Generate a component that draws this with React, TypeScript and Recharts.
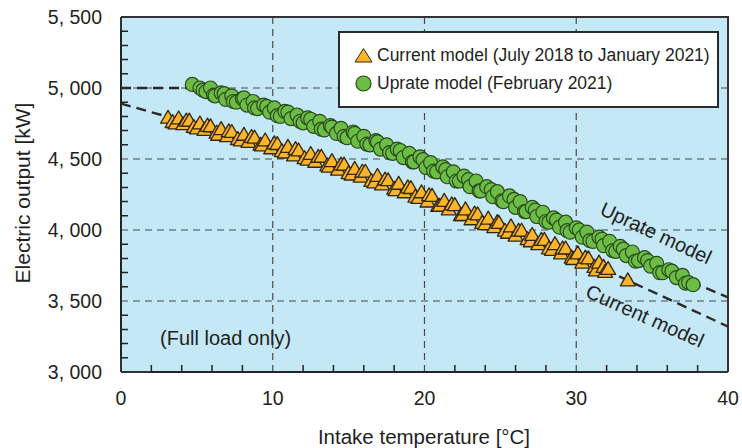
// App.tsx — intake temperature vs electric output (Recharts scatter)
import { ScatterChart, Scatter, XAxis, YAxis, CartesianGrid } from "recharts";

// Uprate model (February 2021)
const upTemp = [
  4.7, 5.2, 5.6, 5.9, 6.2, 6.6, 6.9, 7.3, 7.6, 8.0, 8.3, 8.7, 9.0, 9.4, 9.8, 10.1, 10.5, 10.8, 11.2, 11.6,
  12.0, 12.3, 12.7, 13.1, 13.4, 13.8, 14.2, 14.5, 14.9, 15.3, 15.6, 16.0, 16.4, 16.8, 17.1, 17.5, 17.9, 18.2,
  18.6, 19.0, 19.3, 19.7, 20.1, 20.4, 20.8, 21.2, 21.5, 21.9, 22.3, 22.6, 23.0, 23.4, 23.7, 24.1, 24.5, 24.8,
  25.2, 25.6, 26.0, 26.3, 26.7, 27.1, 27.4, 27.8, 28.2, 28.5, 28.9, 29.3, 29.6, 30.0, 30.4, 30.7, 31.1, 31.5,
  31.8, 32.2, 32.6, 32.9, 33.3, 33.7, 34.1, 34.5, 34.9, 35.3, 35.7, 36.1, 36.6, 37.0, 37.4, 37.7,
];
const upOutput = [
  5025, 5000, 4975, 5000, 4945, 4965, 4920, 4945, 4900, 4925, 4880, 4905, 4855, 4880, 4830, 4860, 4800, 4835, 4785, 4810,
  4755, 4790, 4730, 4765, 4705, 4735, 4680, 4715, 4650, 4690, 4625, 4660, 4600, 4630, 4570, 4600, 4540, 4570,
  4510, 4540, 4480, 4515, 4440, 4475, 4410, 4445, 4375, 4410, 4345, 4380, 4305, 4345, 4275, 4305, 4235, 4270,
  4200, 4240, 4160, 4200, 4130, 4160, 4095, 4125, 4055, 4085, 4020, 4055, 3985, 4015, 3950, 3985, 3920, 3950,
  3890, 3920, 3850, 3885, 3820, 3845, 3785, 3805, 3745, 3765, 3700, 3720, 3665, 3680, 3630, 3615,
];
// 追加の測定点（同期間）
const upTemp2 = [
  5.4, 6.1, 6.8, 7.4, 8.1, 8.8, 9.6, 10.3, 11.0, 11.8, 12.5, 13.2, 13.9, 14.7, 15.4, 16.2, 16.9, 17.7, 18.4,
  19.2, 19.9, 20.6, 21.4, 22.1, 22.9, 23.6, 24.4, 25.1, 25.9, 26.6, 27.3, 28.0, 28.7, 29.4, 30.2, 30.9, 31.7,
  32.4, 33.1, 33.9, 34.7, 35.5, 36.3, 37.2,
];
const upOutput2 = [
  4985, 4950, 4960, 4905, 4930, 4860, 4870, 4805, 4830, 4765, 4780, 4710, 4725, 4660, 4680, 4605, 4620, 4545, 4560,
  4480, 4495, 4415, 4425, 4345, 4355, 4275, 4285, 4205, 4215, 4130, 4140, 4060, 4070, 3995, 4000, 3925, 3935,
  3855, 3865, 3780, 3785, 3700, 3710, 3625,
];

// Current model (July 2018 to January 2021)
const curTemp = [
  3.1, 3.4, 3.8, 4.1, 4.5, 4.8, 5.2, 5.5, 5.9, 6.3, 6.6, 7.0, 7.3, 7.7, 8.1, 8.4, 8.8, 9.2, 9.5, 9.9,
  10.3, 10.6, 11.0, 11.4, 11.7, 12.1, 12.5, 12.8, 13.2, 13.6, 13.9, 14.3, 14.7, 15.0, 15.4, 15.8, 16.1, 16.5,
  16.9, 17.2, 17.6, 18.0, 18.3, 18.7, 19.1, 19.4, 19.8, 20.2, 20.5, 20.9, 21.3, 21.6, 22.0, 22.4, 22.7, 23.1,
  23.5, 23.8, 24.2, 24.6, 24.9, 25.3, 25.7, 26.0, 26.4, 26.8, 27.1, 27.5, 27.9, 28.2, 28.6, 29.0, 29.3, 29.7,
  30.1, 30.4, 30.8, 31.2, 31.5, 31.9, 32.1, 33.4,
];
const curOutput = [
  4790, 4760, 4785, 4745, 4770, 4725, 4750, 4705, 4730, 4685, 4710, 4660, 4690, 4640, 4670, 4620, 4650, 4600, 4630, 4575,
  4605, 4555, 4585, 4525, 4560, 4505, 4535, 4480, 4515, 4455, 4485, 4425, 4460, 4400, 4430, 4375, 4410, 4345,
  4380, 4320, 4350, 4290, 4325, 4265, 4295, 4235, 4265, 4200, 4240, 4170, 4205, 4145, 4175, 4105, 4145, 4075,
  4110, 4050, 4080, 4020, 4050, 3995, 4025, 3960, 3995, 3935, 3965, 3900, 3930, 3870, 3900, 3835, 3870, 3805,
  3835, 3770, 3800, 3740, 3770, 3705, 3725, 3645,
];
const curTemp2 = [
  3.6, 4.3, 5.0, 5.7, 6.4, 7.1, 7.9, 8.6, 9.3, 10.1, 10.8, 11.5, 12.3, 13.0, 13.7, 14.5, 15.2, 15.9, 16.7, 17.4,
  18.1, 18.9, 19.6, 20.3, 21.0, 21.8, 22.5, 23.3, 24.0, 24.8, 25.5, 26.2, 27.0, 27.7, 28.4, 29.1, 29.8, 30.6,
  31.3, 31.8,
];
const curOutput2 = [
  4750, 4770, 4715, 4735, 4670, 4695, 4630, 4655, 4595, 4610, 4545, 4570, 4495, 4515, 4445, 4460, 4390, 4410, 4335, 4355,
  4280, 4300, 4225, 4245, 4170, 4180, 4105, 4115, 4040, 4055, 3980, 3995, 3920, 3930, 3860, 3870, 3795, 3805,
  3715, 3740,
];

// 近似曲線（破線）
const upFitTemp = [0, 4.5, 10, 15, 20, 25, 30, 35, 40];
const upFitOutput = [5000, 5000, 4845, 4675, 4470, 4240, 3995, 3755, 3525];
const curFitTemp = [0, 3, 10, 20, 30, 33.4, 40];
const curFitOutput = [4890, 4800, 4595, 4235, 3810, 3645, 3320];

// 枠（上辺・右辺）
const frameTemp = [0, 40, 40];
const frameOutput = [5500, 5500, 3000];

const xTicks = [0, 10, 20, 30, 40];
const yTicks = [3000, 3500, 4000, 4500, 5000, 5500];
const xMinor = [2, 4, 6, 8, 12, 14, 16, 18, 22, 24, 26, 28, 32, 34, 36, 38];
const yMinor = [
  3100, 3200, 3300, 3400, 3600, 3700, 3800, 3900, 4100, 4200, 4300, 4400,
  4600, 4700, 4800, 4900, 5000, 5100, 5200, 5300, 5400,
];
const gridX = [10, 20, 30];
const gridY = [3500, 4000, 4500, 5000];

// 内向き目盛りの長さ（データ単位）
const X_TICK_LEN = 49; // kW
const Y_TICK_LEN = 0.46; // °C

const FONT = '"Liberation Sans", Arial, Helvetica, sans-serif';
const INK = "#231f20";
const PLOT_BG = "#c5e8f7";
const TRI_FILL = "#fbb52b";
const TRI_EDGE = "#33260f";
const DOT_FILL = "#6bbd45";
const DOT_EDGE = "#2b4a1c";

const toPoints = (xs: number[], ys: number[]) => xs.map((x, i) => ({ x, y: ys[i] }));

const fmtKw = (v: number) => `${Math.floor(v / 1000)}, ${String(v % 1000).padStart(3, "0")}`;

function TriangleMark(props: any) {
  const { cx, cy } = props;
  const s = 7.5;
  return (
    <polygon
      points={`${cx},${cy - s} ${cx + s},${cy + s * 0.72} ${cx - s},${cy + s * 0.72}`}
      fill={TRI_FILL}
      stroke={TRI_EDGE}
      strokeWidth={1.3}
      strokeLinejoin="round"
    />
  );
}

function CircleMark(props: any) {
  const { cx, cy } = props;
  return <circle cx={cx} cy={cy} r={7} fill={DOT_FILL} stroke={DOT_EDGE} strokeWidth={1.2} />;
}

const NoMark = () => <g />;

function XTick(props: any) {
  const { x, y, payload } = props;
  return (
    <text x={x} y={y + 33} textAnchor="middle" fontSize={19.5} fill={INK} fontFamily={FONT}>
      {payload.value}
    </text>
  );
}

function YTick(props: any) {
  const { x, y, payload } = props;
  return (
    <text x={x - 19} y={y + 7} textAnchor="end" fontSize={19.5} fill={INK} fontFamily={FONT}>
      {fmtKw(payload.value)}
    </text>
  );
}

function LegendBox() {
  return (
    <div
      style={{
        position: "absolute",
        left: 338,
        top: 31,
        width: 377,
        height: 73,
        border: "2px solid #2a2a2a",
        background: "#ffffff",
        fontFamily: FONT,
        fontSize: 17.5,
        color: INK,
      }}
    >
      <svg width={30} height={72} style={{ position: "absolute", left: 12, top: 0 }}>
        <polygon points="11.5,15.5 20,29 3,29" fill={TRI_FILL} stroke={TRI_EDGE} strokeWidth={1} strokeLinejoin="round" />
        <circle cx={11.5} cy={50.5} r={7.5} fill={DOT_FILL} stroke={DOT_EDGE} strokeWidth={1.2} />
      </svg>
      <div style={{ position: "absolute", left: 37, top: 12, whiteSpace: "nowrap", lineHeight: "20px" }}>
        Current model (July 2018 to January 2021)
      </div>
      <div style={{ position: "absolute", left: 37, top: 40, whiteSpace: "nowrap", lineHeight: "20px" }}>
        Uprate model (February 2021)
      </div>
    </div>
  );
}

export default function App() {
  const upData = [...toPoints(upTemp, upOutput), ...toPoints(upTemp2, upOutput2)].sort((a, b) => a.x - b.x);
  const curData = [...toPoints(curTemp, curOutput), ...toPoints(curTemp2, curOutput2)].sort((a, b) => a.x - b.x);
  const upFit = toPoints(upFitTemp, upFitOutput);
  const curFit = toPoints(curFitTemp, curFitOutput);
  const frame = toPoints(frameTemp, frameOutput);
  // 目盛りは軸に沿ったくし形の線として描く
  const xComb = xMinor.flatMap(x => [
    { x, y: 3000 },
    { x, y: 3000 + X_TICK_LEN },
    { x, y: 3000 },
  ]);
  const yComb = yMinor.flatMap(y => [
    { x: 0, y },
    { x: Y_TICK_LEN, y },
    { x: 0, y },
  ]);
  const fitLine = { stroke: "#2a2a2a", strokeWidth: 2.4, strokeDasharray: "10 6" };
  const tickStroke = { stroke: "#222", strokeWidth: 1.5 };

  return (
    <div style={{ position: "absolute", left: 0, top: 0, width: 742, height: 448, background: "#fff", fontFamily: FONT }}>
      <ScatterChart width={742} height={448} margin={{ top: 17, right: 14, bottom: 0, left: 0 }}>
        <CartesianGrid
          fill={PLOT_BG}
          stroke="#4a4a4a"
          strokeWidth={1.2}
          strokeDasharray="7 5"
          verticalValues={gridX}
          horizontalValues={gridY}
        />
        <XAxis
          dataKey="x"
          type="number"
          domain={[0, 40]}
          ticks={xTicks}
          interval={0}
          height={76}
          tickSize={0}
          tickMargin={0}
          tickLine={false}
          tick={<XTick />}
          axisLine={{ stroke: "#333", strokeWidth: 2 }}
        />
        <YAxis
          dataKey="y"
          type="number"
          domain={[3000, 5500]}
          ticks={yTicks}
          interval={0}
          width={121}
          tickSize={0}
          tickMargin={0}
          tickLine={false}
          tick={<YTick />}
          axisLine={{ stroke: "#333", strokeWidth: 2 }}
        />
        <Scatter data={frame} shape={NoMark} line={{ stroke: "#333", strokeWidth: 2 }} isAnimationActive={false} />
        <Scatter data={xComb} shape={NoMark} line={tickStroke} isAnimationActive={false} />
        <Scatter data={yComb} shape={NoMark} line={tickStroke} isAnimationActive={false} />
        <Scatter data={upFit} shape={NoMark} line={fitLine} lineJointType="monotoneX" isAnimationActive={false} />
        <Scatter data={curFit} shape={NoMark} line={fitLine} lineJointType="monotoneX" isAnimationActive={false} />
        <Scatter data={curData} shape={TriangleMark} isAnimationActive={false} />
        <Scatter data={upData} shape={CircleMark} isAnimationActive={false} />
      </ScatterChart>

      <svg
        width={742}
        height={448}
        style={{ position: "absolute", left: 0, top: 0, pointerEvents: "none" }}
        fontFamily={FONT}
        fill={INK}
      >
        <text x={22} y={193} fontSize={21} textAnchor="middle" dominantBaseline="central" transform="rotate(-90 22 193)">
          Electric output [kW]
        </text>
        <text x={424} y={444} fontSize={20.5} textAnchor="middle">
          Intake temperature [°C]
        </text>
        <text x={160} y={345} fontSize={20}>
          (Full load only)
        </text>
        <text x={656} y={233} fontSize={20} textAnchor="middle" dominantBaseline="central" transform="rotate(25 656 233)">
          Uprate model
        </text>
        <text x={645} y={316} fontSize={20} textAnchor="middle" dominantBaseline="central" transform="rotate(24 645 316)">
          Current model
        </text>
      </svg>

      <LegendBox />
    </div>
  );
}
